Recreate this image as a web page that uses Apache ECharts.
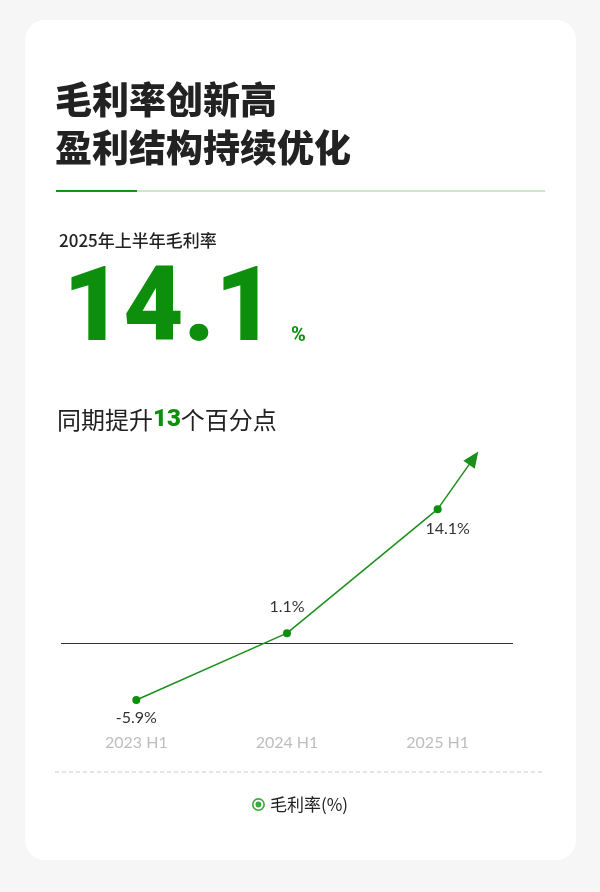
<!DOCTYPE html>
<html>
<head>
<meta charset="utf-8">
<script src="https://cdn.jsdelivr.net/npm/echarts@6/dist/echarts.min.js"></script>
<style>
  html, body { margin: 0; padding: 0; background: #f6f6f6; }
  #main { width: 600px; height: 892px; }
</style>
</head>
<body>
<div id="main"></div>
<script>
// data
var categories = ['2023 H1', '2024 H1', '2025 H1'];
var grossMargin = [-5.9, 1.1, 14.1];
var seriesName = '毛利率(%)';
var headline = '14.1';
var gainPoints = '13';

var green = '#0d8f0d';
var cjk = '"Noto Sans CJK SC", "Noto Sans", sans-serif';

// label placement per point
var labelCfg = [
  { position: 'bottom', distance: 6 },
  { position: 'top', distance: 14 },
  { position: 'bottom', distance: 8, offset: [10, 0] }
];

var chart = echarts.init(document.getElementById('main'));

var option = {
  animation: false,
  backgroundColor: '#f6f6f6',
  graphic: [
    { type: 'rect', z: -10, shape: { x: 25, y: 20, width: 551, height: 840, r: 20 }, style: { fill: '#fff' } },
    { type: 'text', x: 55, y: 100, style: { text: '毛利率创新高', font: '900 37px ' + cjk, fill: '#222', verticalAlign: 'middle' } },
    { type: 'text', x: 55, y: 148, style: { text: '盈利结构持续优化', font: '900 37px ' + cjk, fill: '#222', verticalAlign: 'middle' } },
    { type: 'line', shape: { x1: 137, y1: 191, x2: 545, y2: 191 }, style: { stroke: '#96cf96', lineWidth: 1.2 } },
    { type: 'line', shape: { x1: 56, y1: 191, x2: 137, y2: 191 }, style: { stroke: '#1b8f1b', lineWidth: 2 } },
    { type: 'text', x: 59, y: 241, style: { text: '2025年上半年毛利率', font: '500 17px ' + cjk, fill: '#222', verticalAlign: 'middle' } },
    { type: 'text', x: 63, y: 262, style: { text: headline, font: '900 104px Roboto, sans-serif', fill: green, verticalAlign: 'top' } },
    { type: 'text', x: 291, y: 326, style: { text: '%', font: 'bold 20px Roboto, sans-serif', fill: green, verticalAlign: 'top' } },
    { type: 'text', x: 57, y: 420, style: {
        text: '{a|同期提升}{b|' + gainPoints + '}{a|个百分点}',
        verticalAlign: 'middle',
        rich: {
          a: { fontSize: 24, fontFamily: cjk, fill: '#222' },
          b: { fontSize: 24, fontFamily: 'Roboto, sans-serif', fontWeight: 900, fill: green }
        }
    } },
    { type: 'line', shape: { x1: 55, y1: 772, x2: 545, y2: 772 }, style: { stroke: '#c8c8c8', lineWidth: 1, lineDash: [4, 3] } }
  ],
  legend: {
    top: 791,
    left: 'center',
    data: [{ name: seriesName, itemStyle: { color: '#3aaa3a' } }],
    icon: 'path://M0,-10A10,10,0,1,1,0,10A10,10,0,1,1,0,-10ZM0,-7.5A7.5,7.5,0,1,0,0,7.5A7.5,7.5,0,1,0,0,-7.5ZM0,-4.5A4.5,4.5,0,1,1,0,4.5A4.5,4.5,0,1,1,0,-4.5Z',
    itemWidth: 13,
    itemHeight: 13,
    itemGap: 8,
    textStyle: { fontSize: 17, color: '#222', fontFamily: cjk }
  },
  grid: { left: 61, right: 87, top: 491, height: 229 },
  xAxis: {
    type: 'category',
    data: categories,
    boundaryGap: true,
    axisLine: { show: false },
    axisTick: { show: false },
    axisLabel: { color: '#bdbdbd', fontSize: 16, margin: 15, fontFamily: 'Lato, "Noto Sans", sans-serif' },
    splitLine: { show: false }
  },
  yAxis: {
    type: 'value',
    min: -8,
    max: 16,
    show: false,
    splitLine: { show: false }
  },
  series: [{
    name: seriesName,
    type: 'line',
    data: grossMargin.map(function (v, i) {
      return {
        value: v,
        label: Object.assign({ show: true, formatter: '{c}%' }, labelCfg[i])
      };
    }),
    symbol: 'circle',
    symbolSize: 8,
    itemStyle: { color: green },
    lineStyle: { color: '#1b8f1b', width: 1.5 },
    label: { color: '#333', fontSize: 16, fontFamily: 'Lato, "Noto Sans", sans-serif' },
    z: 5,
    markLine: {
      silent: true,
      symbol: 'none',
      label: { show: false },
      data: [
        { yAxis: 0, lineStyle: { color: '#333', width: 1.2, type: 'solid' } }
      ]
    }
  }]
};

chart.setOption(option);

// trend arrow continuing from the last point
var last = grossMargin.length - 1;
var p = chart.convertToPixel({ seriesIndex: 0 }, [categories[last], grossMargin[last]]);
chart.setOption({
  series: [{
    markLine: {
      data: [
        { yAxis: 0, lineStyle: { color: '#333', width: 1.2, type: 'solid' } },
        [
          { coord: [categories[last], grossMargin[last]], symbol: 'none', lineStyle: { color: '#1b8f1b', width: 1.5, type: 'solid' } },
          { x: p[0] + 36, y: p[1] - 51, symbol: 'triangle', symbolSize: [14, 16] }
        ]
      ]
    }
  }]
});
</script>
</body>
</html>
